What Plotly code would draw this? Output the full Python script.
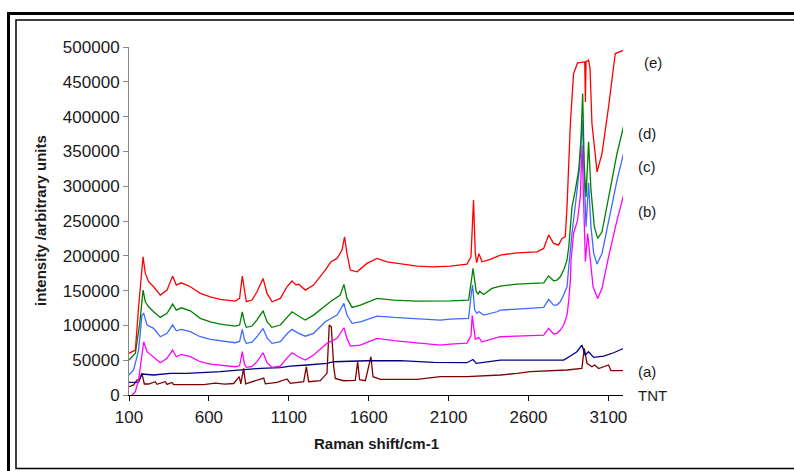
import plotly.graph_objects as go

# Raman spectra: wavenumber (cm-1) and intensity (arbitrary units) per sample
tnt_x = [100, 129, 150, 160, 167, 181, 196, 223, 264, 275, 327, 338, 369, 380, 567, 640, 700,
         755, 790, 800, 817, 830, 943, 953, 1026, 1089, 1110, 1193, 1210, 1224, 1297, 1339,
         1353, 1366, 1381, 1391, 1443, 1516, 1531, 1543, 1579, 1614, 1627, 1673, 1902, 2048,
         2215, 2424, 2528, 2611, 2841, 2934, 2949, 2966, 2997, 3014, 3039, 3070, 3101, 3116, 3195]
tnt_y = [11900, 14400, 21500, 22000, 23500, 31100, 15800, 15800, 19100, 15300, 19100, 15300,
         18000, 14800, 14800, 17000, 15500, 16500, 26300, 16000, 38300, 16000, 24400, 16000,
         18000, 23000, 16700, 19100, 40600, 19100, 20500, 31100, 100500, 98100, 40600, 23900,
         20500, 21000, 47800, 22000, 20500, 55000, 26300, 22500, 22500, 26300, 26300, 28700,
         31100, 33500, 35900, 38300, 67000, 45500, 40600, 43000, 38000, 41000, 43100, 34900, 34900]

a_x = [100, 160, 181, 254, 358, 463, 671, 796, 922, 1047, 1110, 1214, 1297, 1339, 1381, 1589,
       1798, 2006, 2215, 2253, 2273, 2424, 2632, 2820, 2872, 2903, 2934, 2955, 2976, 3008,
       3070, 3133, 3195]
a_y = [18000, 18500, 30100, 28700, 31100, 31100, 33500, 35900, 38300, 39200, 41600, 43100,
       44500, 45500, 47800, 49200, 49500, 47000, 46400, 51000, 45500, 50000, 50200, 50200,
       57400, 62200, 71800, 57400, 62200, 54100, 56000, 60700, 67000]

b_x = [119, 140, 160, 175, 192, 213, 254, 296, 338, 373, 396, 427, 484, 546, 609, 671, 765,
       792, 809, 822, 834, 870, 901, 939, 964, 995, 1047, 1089, 1120, 1161, 1203, 1255, 1339,
       1402, 1445, 1464, 1485, 1548, 1652, 1757, 1902, 2048, 2111, 2215, 2240, 2248, 2267,
       2288, 2309, 2403, 2424, 2528, 2695, 2726, 2757, 2778, 2799, 2820, 2841, 2852, 2862,
       2866, 2882, 2907, 2924, 2935, 2945, 2956, 2970, 2983, 3004, 3033, 3060, 3101, 3154, 3195]
b_y = [0, 4700, 21500, 50200, 76500, 62200, 55000, 46400, 52700, 64600, 55000, 58400, 55000,
       47800, 44500, 43100, 40600, 42000, 62200, 45000, 39800, 41000, 48000, 60700, 46000,
       39800, 41600, 53000, 60700, 55000, 50200, 57400, 74200, 81400, 96600, 81400, 70300,
       71800, 81400, 78000, 75100, 71800, 73000, 74500, 85000, 114000, 80000, 82800, 76500,
       82800, 83700, 84700, 86000, 95700, 87600, 88600, 93300, 100500, 114800, 136400, 165100,
       193800, 232100, 251200, 284700, 358900, 270300, 191400, 232100, 203400, 155500, 138800,
       153200, 198500, 251200, 287100]

c_x = [100, 129, 160, 181, 192, 213, 254, 296, 338, 373, 396, 427, 484, 546, 609, 671, 765,
       792, 809, 822, 834, 870, 901, 939, 964, 995, 1047, 1089, 1120, 1161, 1203, 1255, 1328,
       1402, 1445, 1464, 1496, 1548, 1652, 1757, 1902, 2048, 2111, 2225, 2242, 2250, 2263,
       2277, 2290, 2319, 2403, 2424, 2528, 2695, 2726, 2757, 2778, 2799, 2820, 2841, 2852,
       2862, 2872, 2899, 2920, 2937, 2949, 2960, 2976, 2991, 3008, 3029, 3060, 3101, 3154, 3195]
c_y = [28700, 35900, 64600, 114800, 117300, 100500, 95700, 83700, 88600, 100500, 92300, 94300,
       90900, 83700, 80000, 78000, 75100, 77000, 94300, 80000, 74200, 76000, 84000, 95700,
       82000, 74200, 76500, 88000, 94300, 88600, 84500, 88600, 105200, 114800, 131600, 114800,
       102900, 105200, 113400, 111500, 110100, 107700, 109100, 110100, 146000, 157900, 122000,
       117300, 120000, 114800, 119600, 122000, 123500, 126000, 137400, 129200, 129200, 134000,
       143600, 155500, 184200, 208200, 232100, 284700, 327800, 394800, 303900, 241600, 305000,
       241600, 203400, 188100, 203400, 251200, 308700, 347000]

d_x = [100, 140, 167, 188, 202, 223, 254, 296, 338, 373, 396, 427, 484, 546, 609, 671, 765,
       792, 809, 822, 834, 870, 901, 939, 964, 995, 1047, 1089, 1120, 1161, 1203, 1255, 1360,
       1422, 1445, 1464, 1496, 1548, 1652, 1757, 1902, 2111, 2225, 2240, 2253, 2273, 2285,
       2294, 2319, 2371, 2424, 2528, 2695, 2726, 2757, 2778, 2799, 2820, 2841, 2852, 2862,
       2872, 2893, 2914, 2928, 2939, 2949, 2960, 2976, 2991, 3012, 3033, 3060, 3101, 3154, 3195]
d_y = [50200, 59900, 102900, 150700, 134000, 126700, 119600, 111500, 117300, 130600, 122000,
       125300, 121000, 110100, 105200, 101900, 99100, 100500, 119600, 105000, 97200, 99100,
       108000, 121000, 105000, 97200, 100500, 112000, 119600, 113400, 107700, 114800, 134000,
       143600, 158900, 138800, 125900, 129200, 138800, 136400, 134900, 135300, 136400, 160400,
       181900, 148300, 145000, 149000, 144500, 153200, 156500, 159300, 161200, 171000, 164100,
       165100, 169800, 179500, 193800, 212900, 236900, 270300, 294300, 323000, 366100, 433100,
       327800, 284700, 363700, 294300, 241600, 225000, 234400, 284700, 347000, 386200]

e_x = [100, 140, 160, 188, 202, 223, 254, 296, 338, 373, 396, 427, 484, 546, 609, 671, 765,
       792, 809, 822, 834, 870, 901, 939, 964, 995, 1047, 1089, 1120, 1147, 1161, 1203, 1255,
       1328, 1364, 1402, 1433, 1449, 1464, 1485, 1527, 1589, 1652, 1715, 1798, 1902, 2006,
       2111, 2215, 2240, 2256, 2267, 2275, 2290, 2309, 2361, 2424, 2528, 2653, 2695, 2726,
       2757, 2788, 2810, 2830, 2841, 2862, 2882, 2907, 2945, 2952, 2956, 2960, 2976, 2985,
       2997, 3029, 3060, 3101, 3143, 3195]
e_y = [59900, 64600, 126700, 198500, 174700, 162700, 155500, 143600, 150700, 170800, 157900,
       161200, 155500, 146000, 141100, 137400, 134900, 138800, 170800, 150700, 134000, 136400,
       148300, 167500, 146000, 134000, 138800, 155500, 163700, 157900, 159300, 150700, 157900,
       179500, 191400, 196200, 208200, 227300, 203400, 179500, 177000, 189100, 196200, 191400,
       188500, 185200, 184200, 185200, 188100, 198500, 280000, 203400, 190000, 203000, 191400,
       194800, 201000, 204300, 205700, 210600, 230000, 217800, 215300, 225000, 227300, 270300,
       390000, 461800, 477100, 478500, 478500, 421000, 478500, 481000, 470000, 390000, 320600,
       347000, 413900, 490600, 495300]

series_labels = ["TNT", "(a)", "(b)", "(c)", "(d)", "(e)"]
series_colors = ["#800000", "#000080", "#FF00FF", "#3D6BFF", "#008000", "#FF0000"]
series_data = [(tnt_x, tnt_y), (a_x, a_y), (b_x, b_y), (c_x, c_y), (d_x, d_y), (e_x, e_y)]

x_ticks = [100, 600, 1100, 1600, 2100, 2600, 3100]
y_ticks = [0, 50000, 100000, 150000, 200000, 250000, 300000, 350000, 400000, 450000, 500000]

W, H = 794, 471
ML, MR, MT, MB = 129, 171, 47, 76
PW, PH = W - ML - MR, H - MT - MB


def px(xp):
    return (xp - ML) / PW


def py(yp):
    return (H - MB - yp) / PH


fig = go.Figure()
for (xs, ys), name, col in zip(series_data, series_labels, series_colors):
    fig.add_trace(go.Scatter(x=xs, y=ys, mode="lines", name=name,
                             line=dict(color=col, width=1.3), showlegend=False))

# curve labels at the right of the plot
label_pos = {"(e)": (642, 62), "(d)": (636, 133), "(c)": (636, 166),
             "(b)": (636, 211), "(a)": (636, 371), "TNT": (636, 396)}
for name in series_labels:
    xp, yp = label_pos[name]
    fig.add_annotation(x=px(xp), y=py(yp), xref="paper", yref="paper", text=name,
                       showarrow=False, xanchor="left", yanchor="middle",
                       font=dict(family="Liberation Sans, Arial", size=15, color="#1a1a1a"))

# axis titles
fig.add_annotation(x=px(40), y=py(221), xref="paper", yref="paper",
                   text="<b>intensity /arbitrary units</b>", showarrow=False, textangle=-90,
                   xanchor="center", yanchor="middle",
                   font=dict(family="Liberation Sans, Arial", size=15, color="#1a1a1a"))
fig.add_annotation(x=px(376), y=py(443), xref="paper", yref="paper",
                   text="<b>Raman shift/cm-1</b>", showarrow=False,
                   xanchor="center", yanchor="middle",
                   font=dict(family="Liberation Sans, Arial", size=15, color="#1a1a1a"))

# double frame around the chart
fig.add_shape(type="rect", xref="paper", yref="paper", x0=px(8.5), x1=px(812),
              y0=py(490), y1=py(13.5), line=dict(color="black", width=3))
fig.add_shape(type="rect", xref="paper", yref="paper", x0=px(16), x1=px(802),
              y0=py(468.5), y1=py(20), line=dict(color="black", width=1.5))

tick_font = dict(family="Liberation Sans, Arial", size=17, color="#1a1a1a")
fig.update_xaxes(range=[100, 100 + PW / 79.9 * 500], tickvals=x_ticks,
                 ticktext=[str(v) for v in x_ticks], showgrid=False, zeroline=False,
                 showline=True, linecolor="black", linewidth=1, ticks="outside",
                 ticklen=5, tickcolor="black", tickfont=tick_font, ticklabelstandoff=2)
fig.update_yaxes(range=[0, 500000], tickvals=y_ticks,
                 ticktext=[str(v) for v in y_ticks], showgrid=False, zeroline=False,
                 showline=True, linecolor="#888888", linewidth=1, ticks="outside",
                 ticklen=5, tickcolor="#888888", tickfont=tick_font)

fig.update_layout(width=W, height=H, autosize=False,
                  margin=dict(l=ML, r=MR, t=MT, b=MB),
                  paper_bgcolor="white", plot_bgcolor="white")

fig.write_html("out.html")
